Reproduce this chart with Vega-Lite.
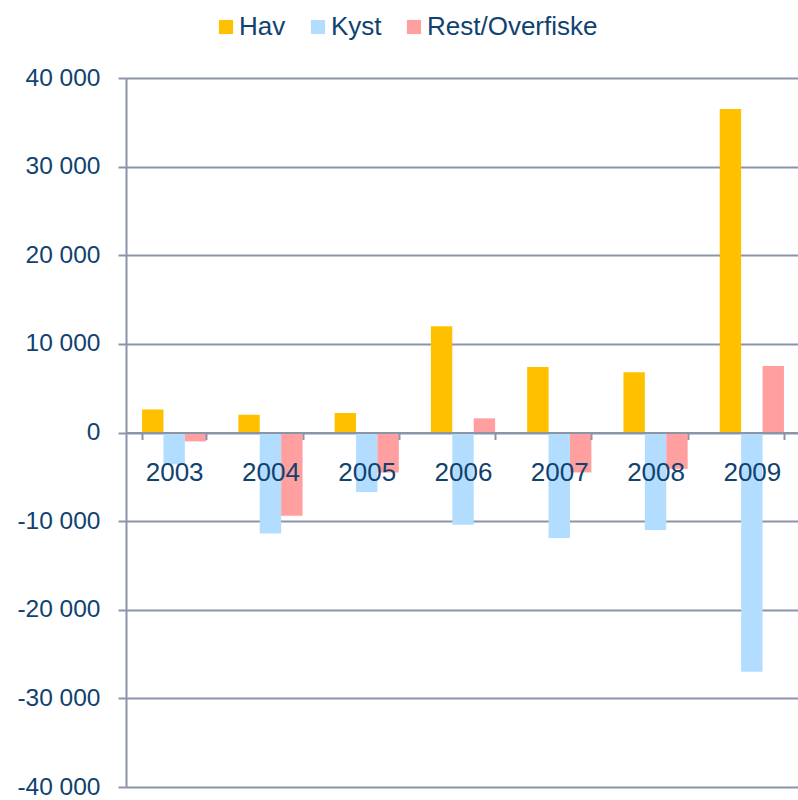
{
  "$schema": "https://vega.github.io/schema/vega-lite/v6.json",
  "width": 674,
  "height": 709,
  "autosize": {"type": "none"},
  "padding": {"left": 126, "top": 78, "right": 0, "bottom": 13},
  "config": {
    "view": {"stroke": null},
    "font": "Liberation Sans",
    "locale": {"number": {"decimal": ",", "thousands": " ", "grouping": [3], "currency": ["", ""], "minus": "-"}}
  },
  "data": {
    "values": [
      {"year": "2003", "series": "Hav", "value": 2600},
      {"year": "2003", "series": "Kyst", "value": -3600},
      {"year": "2003", "series": "Rest/Overfiske", "value": -1000},
      {"year": "2004", "series": "Hav", "value": 2000},
      {"year": "2004", "series": "Kyst", "value": -11400},
      {"year": "2004", "series": "Rest/Overfiske", "value": -9400},
      {"year": "2005", "series": "Hav", "value": 2200},
      {"year": "2005", "series": "Kyst", "value": -6700},
      {"year": "2005", "series": "Rest/Overfiske", "value": -4500},
      {"year": "2006", "series": "Hav", "value": 12000},
      {"year": "2006", "series": "Kyst", "value": -10400},
      {"year": "2006", "series": "Rest/Overfiske", "value": 1600},
      {"year": "2007", "series": "Hav", "value": 7400},
      {"year": "2007", "series": "Kyst", "value": -11900},
      {"year": "2007", "series": "Rest/Overfiske", "value": -4500},
      {"year": "2008", "series": "Hav", "value": 6800},
      {"year": "2008", "series": "Kyst", "value": -11000},
      {"year": "2008", "series": "Rest/Overfiske", "value": -4100},
      {"year": "2009", "series": "Hav", "value": 36500},
      {"year": "2009", "series": "Kyst", "value": -27000},
      {"year": "2009", "series": "Rest/Overfiske", "value": 7500}
    ]
  },
  "mark": {"type": "bar"},
  "encoding": {
    "x": {
      "field": "year",
      "type": "nominal",
      "scale": {"paddingInner": 0.333, "paddingOuter": 0.1667},
      "axis": {
        "orient": "bottom",
        "offset": -354.5,
        "title": null,
        "labelAngle": 0,
        "tickBand": "extent",
        "domainColor": "#8C94A8",
        "domainWidth": 2,
        "tickColor": "#8C94A8",
        "tickWidth": 2,
        "tickSize": 7,
        "labelFontSize": 26,
        "labelColor": "#10426F",
        "labelPadding": 20,
        "grid": false,
        "zindex": 1
      }
    },
    "y": {
      "field": "value",
      "type": "quantitative",
      "scale": {"domain": [-40000, 40000], "nice": false},
      "axis": {
        "title": null,
        "values": [-40000, -30000, -20000, -10000, 0, 10000, 20000, 30000, 40000],
        "format": ",d",
        "grid": true,
        "gridColor": "#8C94A8",
        "gridWidth": 2,
        "domainColor": "#8C94A8",
        "domainWidth": 2,
        "tickColor": "#8C94A8",
        "tickWidth": 2,
        "tickSize": 8,
        "labelFontSize": 24.5,
        "labelColor": "#10426F",
        "labelPadding": 18
      }
    },
    "xOffset": {"field": "series", "type": "nominal", "scale": {"paddingInner": 0, "paddingOuter": 0}},
    "color": {
      "field": "series",
      "type": "nominal",
      "scale": {"domain": ["Hav", "Kyst", "Rest/Overfiske"], "range": ["#FFC000", "#B3DDFF", "#FF9F9F"]},
      "legend": {
        "title": null,
        "orient": "none",
        "legendX": 87,
        "legendY": -64,
        "direction": "horizontal",
        "symbolType": "square",
        "symbolSize": 200,
        "symbolStrokeWidth": 0,
        "labelFontSize": 26,
        "labelColor": "#10426F",
        "labelOffset": 0,
        "labelLimit": 400,
        "columnPadding": 19,
        "padding": 0
      }
    }
  }
}
